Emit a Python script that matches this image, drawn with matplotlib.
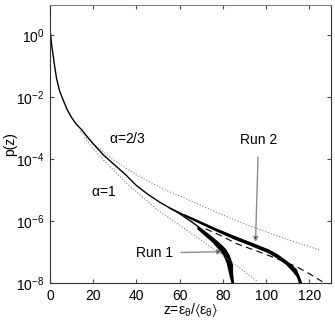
import numpy as np
import matplotlib.pyplot as plt
from matplotlib.ticker import NullLocator

# values (log10 of p)
z_run2 = [0.3, 0.8, 1.5, 2.2, 3.1, 4.5, 6.2, 8, 10, 12, 14.7, 17, 20, 25, 31, 35,
          40, 45, 51, 56, 62, 70, 77, 85, 93, 101, 105, 109, 113.7, 115.2, 116]
lp_run2 = [0.05, -0.3, -0.65, -1.0, -1.4, -1.8, -2.1, -2.4, -2.65, -2.85, -3.05, -3.25,
           -3.5, -3.88, -4.25, -4.5, -4.85, -5.12, -5.4, -5.6, -5.8, -6.05, -6.27,
           -6.5, -6.72, -6.94, -7.1, -7.31, -7.58, -7.9, -8.1]

# noisy tail of run 2 (band)
z_tail2 = [62, 70, 77, 85, 93, 101, 105, 109, 112, 114, 115.5, 116.5]
hi_tail2 = [-5.76, -6.01, -6.23, -6.46, -6.68, -6.9, -7.05, -7.25, -7.42, -7.55, -7.8, -8.0]
lo_tail2 = [-5.84, -6.1, -6.33, -6.58, -6.8, -7.03, -7.2, -7.4, -7.62, -7.8, -8.1, -8.2]

# run 1 branch and its noisy band
z_run1 = [55, 60, 66.5, 72.7, 77.3, 80.4, 82.7, 84.3, 85]
lp_run1 = [-5.56, -5.76, -6.07, -6.4, -6.67, -6.88, -7.15, -7.63, -8.1]
z_band1 = [68, 72, 75, 78, 80, 81.5, 83, 84.5]
hi_band1 = [-6.15, -6.36, -6.5, -6.68, -6.8, -6.92, -7.1, -7.4]
lo_band1 = [-6.25, -6.5, -6.68, -6.92, -7.1, -7.35, -7.8, -8.2]

# alpha = 2/3 fit (dotted, upper)
z_a23 = [14, 20, 30, 40, 52, 62, 75, 86, 97, 110, 125]
lp_a23 = [-3.1, -3.5, -4.05, -4.5, -4.95, -5.25, -5.65, -5.98, -6.27, -6.6, -6.94]

# alpha = 1 fit (dotted, lower)
z_a1 = [16, 23, 35, 50, 70, 86, 96]
lp_a1 = [-3.3, -3.9, -4.75, -5.65, -6.62, -7.42, -7.95]

# dashed fit near the tail
z_dash = [72, 80, 86, 93, 100, 107, 114, 120, 126]
lp_dash = [-6.25, -6.5, -6.72, -6.9, -7.08, -7.27, -7.47, -7.7, -7.96]

xticks = [0, 20, 40, 60, 80, 100, 120]
yticks = [1e0, 1e-2, 1e-4, 1e-6, 1e-8]

plt.rcParams['font.family'] = ['Liberation Sans', 'DejaVu Sans']
plt.rcParams['mathtext.fontset'] = 'custom'
plt.rcParams['mathtext.rm'] = 'Liberation Sans'
plt.rcParams['mathtext.it'] = 'Liberation Sans:italic'
plt.rcParams['mathtext.default'] = 'regular'

fig = plt.figure(figsize=(3.35, 3.23), dpi=100)
ax = fig.add_axes([0.149, 0.124, 0.839, 0.862])

p = lambda v: 10 ** np.asarray(v)

ax.plot(z_a23, p(lp_a23), ':', color='0.5', lw=0.8)
ax.plot(z_a1, p(lp_a1), ':', color='0.5', lw=0.8)
ax.plot(z_dash, p(lp_dash), color='k', lw=0.8, dashes=(6, 4))

ax.fill_between(z_band1, p(lo_band1), p(hi_band1), color='k', lw=0)
ax.plot(z_run1, p(lp_run1), color='k', lw=1.0)
ax.fill_between(z_tail2, p(lo_tail2), p(hi_tail2), color='k', lw=0)
ax.plot(z_run2, p(lp_run2), color='k', lw=1.0)

ax.set_yscale('log')
ax.set_xlim(0, 130)
ax.set_ylim(1e-8, 10)
ax.set_xticks(xticks)
ax.set_yticks(yticks)
ax.yaxis.set_minor_locator(NullLocator())
ax.tick_params(direction='in', top=True, right=True, length=3, width=0.8,
               labelsize=10, pad=4, color='0.3')
for s in ['left', 'bottom', 'right']:
    ax.spines[s].set_color('0.2')
ax.spines['top'].set_color('0.5')

ax.set_xlabel(r'z=$\varepsilon_\theta/\langle\varepsilon_\theta\rangle$', fontsize=10, labelpad=-1)
ax.set_ylabel('p(z)', fontsize=10)
ax.yaxis.set_label_coords(-0.115, 0.5)

ax.text(36, 10 ** -3.32, r'$\alpha$=2/3', fontsize=10, ha='center', va='center')
ax.text(25, 10 ** -5.06, r'$\alpha$=1', fontsize=10, ha='center', va='center')

ax.annotate('Run 2', xy=(95.1, 10 ** -6.67), xytext=(96.5, 10 ** -3.39),
            fontsize=10, ha='center', va='center',
            arrowprops=dict(arrowstyle='-|>', color='0.55', fc='k', lw=1.0,
                            mutation_scale=7, shrinkA=5, shrinkB=0))
ax.annotate('Run 1', xy=(79.7, 10 ** -6.99), xytext=(48.3, 10 ** -7.03),
            fontsize=10, ha='center', va='center',
            arrowprops=dict(arrowstyle='-|>', color='0.55', fc='k', lw=1.0,
                            mutation_scale=7, shrinkA=4, shrinkB=0))

fig.savefig('out.png', dpi=100)
